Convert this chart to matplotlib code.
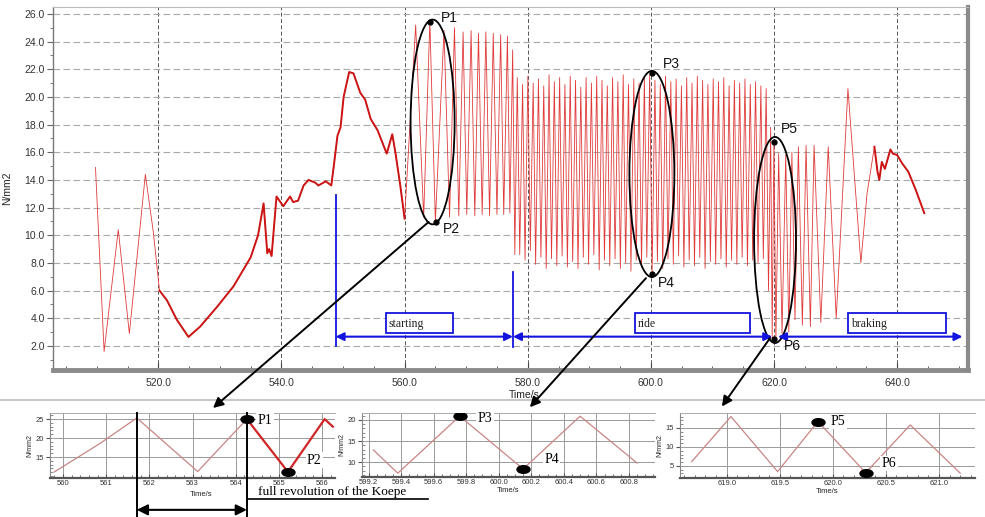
import numpy as np
import matplotlib
matplotlib.use('Agg')
import matplotlib.pyplot as plt
from matplotlib.patches import Ellipse, Rectangle, ConnectionPatch
from matplotlib.markers import MarkerStyle
from matplotlib.transforms import Affine2D
from matplotlib.ticker import MultipleLocator, FormatStrFormatter, FixedLocator
from matplotlib.lines import Line2D

plt.rcParams['font.family'] = ['Liberation Sans', 'DejaVu Sans']
SERIF = ['Liberation Serif', 'DejaVu Serif']

# ---------------- data: main record ----------------
slow_t = [509.8, 511.2, 513.5, 515.3, 517.9, 519.2, 520.2, 521.4, 523.0, 524.9, 526.8,
          529.5, 532.2, 535.0, 536.2, 537.1, 537.7, 538.0, 538.4, 539.2, 540.3, 541.4,
          541.9, 542.7, 543.6, 544.4, 545.5, 546.0, 547.2, 548.1, 548.5, 549.1, 549.6,
          550.1, 551.0, 551.7, 552.8, 553.6, 554.5, 555.6, 557.1, 558.0, 558.5, 559.3, 560.0]
slow_v = [14.9, 1.6, 10.4, 2.9, 14.4, 10.2, 6.0, 5.3, 3.9, 2.65, 3.4,
          4.8, 6.3, 8.4, 10.0, 12.3, 8.7, 9.0, 8.5, 12.8, 12.1, 12.8,
          12.4, 12.5, 13.6, 14.0, 13.8, 13.6, 13.9, 13.6, 15.0, 17.2, 17.8,
          20.0, 21.8, 21.7, 20.3, 19.8, 18.4, 17.6, 15.9, 17.3, 16.0, 13.6, 11.2]

start_t = [561.8, 563.1, 564.1, 565.0, 566.4, 567.3, 568.1, 568.8, 569.5, 570.1, 570.8,
           571.4, 572.0, 572.6, 573.2, 573.8, 574.4, 575.0, 575.6, 576.1, 576.7, 577.1,
           577.55, 577.9]
start_v = [25.2, 11.3, 25.5, 11.0, 24.8, 11.3, 25.0, 11.4, 24.7, 11.5, 24.8,
           11.4, 24.6, 11.5, 24.7, 11.4, 24.6, 11.5, 24.5, 11.5, 24.4, 11.6,
           23.4, 8.6]

ride_peak_t = [578.30, 579.16, 580.02, 580.88, 581.74, 582.60, 583.46, 584.32, 585.18, 586.04,
               586.90, 587.76, 588.62, 589.48, 590.34, 591.20, 592.06, 592.92, 593.78, 594.64,
               595.50, 596.36, 597.22, 598.08, 598.94, 599.80, 600.66, 601.52, 602.38, 603.24,
               604.10, 604.96, 605.82, 606.68, 607.54, 608.40, 609.26, 610.12, 610.98, 611.84,
               612.70, 613.56, 614.42, 615.28, 616.14, 617.00, 617.86]
ride_peak_v = [21.4, 20.9, 21.5, 21.0, 21.3, 20.8, 21.6, 21.1, 21.4, 20.9,
               21.5, 21.2, 20.7, 21.4, 21.0, 21.5, 21.2, 20.8, 21.4, 21.1,
               21.6, 20.9, 21.3, 21.0, 21.4, 21.6, 21.2, 20.9, 21.5, 21.1,
               21.3, 20.8, 21.4, 21.0, 21.5, 21.2, 20.9, 21.3, 21.1, 21.4,
               20.8, 21.2, 21.0, 21.3, 20.9, 21.1, 20.8]
ride_trough_t = [578.70, 579.56, 580.42, 581.28, 582.14, 583.00, 583.86, 584.72, 585.58, 586.44,
                 587.30, 588.16, 589.02, 589.88, 590.74, 591.60, 592.46, 593.32, 594.18, 595.04,
                 595.90, 596.76, 597.62, 598.48, 599.34, 600.20, 601.06, 601.92, 602.78, 603.64,
                 604.50, 605.36, 606.22, 607.08, 607.94, 608.80, 609.66, 610.52, 611.38, 612.24,
                 613.10, 613.96, 614.82, 615.68, 616.54, 617.40, 618.26]
ride_trough_v = [8.6, 8.2, 8.9, 7.9, 8.4, 7.6, 8.3, 7.8, 8.5, 7.7,
                 8.1, 7.6, 8.4, 7.9, 8.6, 7.5, 8.2, 7.8, 8.3, 7.6,
                 8.0, 7.4, 8.2, 7.7, 8.4, 7.3, 8.1, 7.6, 8.3, 7.9,
                 8.5, 7.7, 8.2, 7.8, 8.4, 7.6, 8.1, 7.9, 8.3, 7.7,
                 8.2, 7.9, 8.4, 7.8, 8.2, 8.0, 8.3]

brake_t = [618.72, 619.1, 619.45, 619.7, 619.98, 620.3, 620.75, 621.3, 621.9, 622.4, 622.9,
           623.4, 623.95, 624.6, 625.2, 625.9, 626.5, 627.6, 628.8, 630.1, 632.0, 634.1,
           635.1, 636.3, 636.8, 637.1, 637.5, 638.0, 638.9, 639.3, 640.0, 640.8, 641.8,
           643.0, 644.4]
brake_v = [20.6, 6.0, 17.8, 2.6, 16.8, 2.4, 15.9, 2.9, 15.8, 3.0, 16.0,
           3.9, 16.4, 3.5, 16.5, 3.4, 16.5, 3.7, 16.4, 4.0, 20.6, 8.0,
           13.0, 16.4, 14.6, 14.0, 15.3, 14.8, 16.2, 15.9, 15.8, 15.2, 14.6,
           13.3, 11.6]

# marked points on the main record
pts_name = ['P1', 'P2', 'P3', 'P4', 'P5', 'P6']
pts_t = [564.07, 565.04, 600.16, 600.16, 620.0, 620.0]
pts_v = [25.42, 10.96, 21.73, 7.2, 16.75, 2.5]

# ---------------- data: zoomed records ----------------
in1_t = [559.8, 560.86, 561.71, 563.12, 564.26, 565.21, 566.06, 566.25]
in1_v = [11.1, 18.6, 25.3, 11.2, 25.0, 11.1, 25.0, 23.0]
in1_yticks = [15, 20, 25]
in2_t = [599.23, 599.38, 599.76, 600.15, 600.50, 600.85]
in2_v = [12.9, 7.4, 20.9, 8.4, 20.9, 9.8]
in3_t = [618.67, 619.04, 619.48, 619.86, 620.31, 620.73, 621.2]
in3_v = [6.1, 18.0, 3.5, 16.7, 3.2, 15.8, 3.1]

# ---------------- figure ----------------
W, H = 985, 517
fig = plt.figure(figsize=(W / 100, H / 100), dpi=100)


def px_axes(l, t, r, b):
    return fig.add_axes([l / W, 1 - b / H, (r - l) / W, (b - t) / H])


ride_t = np.column_stack([ride_peak_t, ride_trough_t]).ravel()
ride_v = np.column_stack([ride_peak_v, ride_trough_v]).ravel()
t_all = np.concatenate([slow_t, start_t, ride_t, brake_t])
v_all = np.concatenate([slow_v, start_v, ride_v, brake_v])

ax = px_axes(53, 7, 968, 370)
ax.set_xlim(502.9, 651.5)
ax.set_ylim(0.26, 26.5)
ax.plot(t_all, v_all, color='#e03a3a', lw=0.6, zorder=3)
thick = ((t_all >= 519.5) & (t_all <= 560.0)) | (t_all >= 636.3)
ax.plot(t_all, np.where(thick, v_all, np.nan), color='#cc1515', lw=1.4, zorder=3)

ax.xaxis.set_major_locator(MultipleLocator(20))
ax.xaxis.set_minor_locator(MultipleLocator(5))
ax.yaxis.set_major_locator(MultipleLocator(2))
ax.yaxis.set_minor_locator(MultipleLocator(1))
ax.xaxis.set_major_formatter(FormatStrFormatter('%.1f'))
ax.yaxis.set_major_formatter(FormatStrFormatter('%.1f'))
ax.tick_params(axis='x', which='major', direction='in', length=5, color='#444',
               labelsize=7.5, labelcolor='#333', pad=6)
ax.tick_params(axis='x', which='minor', direction='in', length=3, color='#444')
ax.tick_params(axis='y', which='major', direction='out', length=4, color='#666',
               labelsize=7.5, labelcolor='#333', pad=2)
ax.tick_params(axis='y', which='minor', direction='out', length=2, color='#666')
ax.grid(axis='y', which='major', color='#a8a8a8', lw=0.8, linestyle=(0, (6, 3)))
ax.grid(axis='x', which='major', color='#555555', lw=0.7, linestyle=(0, (4, 2.5)))
ax.set_axisbelow(True)
for s, (c, w) in {'left': ('#777777', 1.0), 'top': ('#bbbbbb', 0.8),
                  'bottom': ('#8a8a8a', 3.5), 'right': ('#8a8a8a', 3.0)}.items():
    ax.spines[s].set_color(c)
    ax.spines[s].set_linewidth(w)
ax.set_xlabel('Time/s', fontsize=7.5, color='#222')
ax.xaxis.set_label_coords(0.515, -0.055)
ax.set_ylabel('N/mm2', fontsize=7.5, color='#222')
ax.yaxis.set_label_coords(-0.045, 0.5)

# ellipses and points
for (cx, cy, w, h) in [(564.55, 18.19, 7.15, 14.8), (600.16, 14.43, 7.3, 14.9),
                       (620.16, 9.66, 6.8, 14.9)]:
    ax.add_patch(Ellipse((cx, cy), w, h, fill=False, ec='black', lw=1.3, zorder=5))
ax.plot(pts_t, pts_v, 'o', color='black', ms=3.5, zorder=6)
lab_pos = [(565.85, 25.7), (566.2, 10.45), (601.95, 22.4), (601.1, 6.55),
           (621.1, 17.7), (621.6, 2.0)]
for n, (lx, ly) in zip(pts_name, lab_pos):
    ax.text(lx, ly, n, fontsize=10, va='center', ha='left', color='#111', zorder=7)

# phase annotations
BLUE = '#1414e0'
ax.plot([548.8, 548.8], [12.9, 2.0], color=BLUE, lw=1.3, zorder=6)
ax.plot([577.6, 577.6], [7.35, 1.95], color=BLUE, lw=1.3, zorder=6)
for (x0, x1) in [(548.8, 577.6), (577.6, 619.7), (620.65, 650.6)]:
    ax.annotate('', xy=(x0, 2.67), xytext=(x1, 2.67),
                arrowprops=dict(arrowstyle='<|-|>', color=BLUE, lw=1.5,
                                mutation_scale=12, shrinkA=0, shrinkB=0), zorder=6)
for (x0, x1, name) in [(556.9, 567.8, 'starting'), (597.4, 616.1, 'ride'),
                       (632.0, 648.0, 'braking')]:
    ax.add_patch(Rectangle((x0, 2.93), x1 - x0, 1.45, fc='white', ec=BLUE, lw=1.3, zorder=6))
    ax.text(x0 + 0.5, 3.62, name, family=SERIF, fontsize=8.5, va='center', ha='left',
            color='#222', zorder=7)

# ---------------- insets ----------------
ell = MarkerStyle('o', transform=Affine2D().scale(1.7, 1.0))


def style_inset(a, xmaj, xmin, xfmt, ymaj):
    a.xaxis.set_major_locator(MultipleLocator(xmaj))
    a.xaxis.set_minor_locator(MultipleLocator(xmin))
    a.yaxis.set_major_locator(MultipleLocator(ymaj))
    a.yaxis.set_minor_locator(MultipleLocator(1))
    a.xaxis.set_major_formatter(FormatStrFormatter(xfmt))
    a.yaxis.set_major_formatter(FormatStrFormatter('%d'))
    a.tick_params(axis='both', which='major', labelsize=5.5, labelcolor='#333',
                  length=3, color='#555', pad=1.5)
    a.tick_params(axis='x', which='both', direction='in')
    a.tick_params(axis='x', which='minor', length=2, color='#555')
    a.tick_params(axis='y', which='minor', direction='in', length=2, color='#777')
    a.grid(which='major', color='#9a9a9a', lw=0.7)
    a.set_axisbelow(True)
    a.spines['left'].set_color('#888')
    a.spines['top'].set_color('#aaa')
    a.spines['top'].set_linewidth(0.7)
    a.spines['right'].set_visible(False)
    a.spines['bottom'].set_color('#555')
    a.spines['bottom'].set_linewidth(1.6)
    a.set_xlabel('Time/s', fontsize=5.5, labelpad=0.5, color='#222')
    a.set_ylabel('N/mm2', fontsize=5, labelpad=1, color='#222')


LINE_IN = '#c98585'

a1 = px_axes(50, 413, 335, 478)
a1.set_xlim(559.7, 566.3)
a1.set_ylim(9.5, 26.6)
style_inset(a1, 1, 0.2, '%d', 5)
a1.yaxis.set_major_locator(FixedLocator(in1_yticks))
a1.xaxis.set_label_coords(0.53, -0.2)
a1.plot(in1_t, in1_v, color=LINE_IN, lw=0.9)
m1 = np.array(in1_t) >= 564.26
a1.plot(np.array(in1_t)[m1], np.array(in1_v)[m1], color='#d02828', lw=1.6)
a1.plot([in1_t[4], in1_t[5]], [in1_v[4], in1_v[5]], ls='none', marker=ell, ms=5.5,
        color='black', zorder=6, clip_on=False)
a1.text(564.51, 24.7, 'P1', family=SERIF, fontsize=10, va='center', ha='left',
        bbox=dict(fc='white', ec='none', pad=1), zorder=7)
a1.text(565.65, 14.2, 'P2', family=SERIF, fontsize=10, va='center', ha='left',
        bbox=dict(fc='white', ec='none', pad=1), zorder=7)
for xv in (in1_t[2], in1_t[4]):
    a1.axvline(xv, ymin=-0.6, ymax=1.0, color='black', lw=1.4, clip_on=False, zorder=8)
a1.annotate('', xy=(in1_t[2], -0.49), xytext=(in1_t[4], -0.49),
            xycoords=('data', 'axes fraction'), textcoords=('data', 'axes fraction'),
            arrowprops=dict(arrowstyle='<|-|>', color='black', lw=1.5, mutation_scale=16,
                            shrinkA=0, shrinkB=0), annotation_clip=False)
a1.text(564.51, -0.31, 'full revolution of the Koepe', family=SERIF, fontsize=9.5,
        va='bottom', ha='left', transform=a1.get_xaxis_transform(), clip_on=False)
a1.plot([564.28, 568.45], [-0.32, -0.32], color='black', lw=1.2,
        transform=a1.get_xaxis_transform(), clip_on=False)

a2 = px_axes(362, 413, 655, 477)
a2.set_xlim(599.16, 600.96)
a2.set_ylim(6.5, 21.65)
style_inset(a2, 0.2, 0.05, '%.1f', 5)
a2.plot(in2_t, in2_v, color=LINE_IN, lw=0.9)
a2.plot([in2_t[2], in2_t[3]], [in2_v[2], in2_v[3]], ls='none', marker=ell, ms=5.5,
        color='black', zorder=6)
a2.text(599.87, 20.4, 'P3', family=SERIF, fontsize=10, va='center', ha='left',
        bbox=dict(fc='white', ec='none', pad=1), zorder=7)
a2.text(600.28, 10.6, 'P4', family=SERIF, fontsize=10, va='center', ha='left',
        bbox=dict(fc='white', ec='none', pad=1), zorder=7)

a3 = px_axes(680, 413, 975, 478)
a3.set_xlim(618.56, 621.34)
a3.set_ylim(1.8, 18.95)
style_inset(a3, 0.5, 0.1, '%.1f', 5)
a3.plot(in3_t, in3_v, color=LINE_IN, lw=0.9)
a3.plot([in3_t[3], in3_t[4]], [in3_v[3], in3_v[4]], ls='none', marker=ell, ms=5.5,
        color='black', zorder=6)
a3.text(619.98, 16.7, 'P5', family=SERIF, fontsize=10, va='center', ha='left',
        bbox=dict(fc='white', ec='none', pad=1), zorder=7)
a3.text(620.46, 5.6, 'P6', family=SERIF, fontsize=10, va='center', ha='left',
        bbox=dict(fc='white', ec='none', pad=1), zorder=7)

# separator between main chart and zoomed panels
fig.add_artist(Line2D([0, 1], [1 - 400 / H] * 2, transform=fig.transFigure,
                      color='#c8c8c8', lw=1.5))

# connecting arrows
for (xa, ya, axb, xb, yb) in [(563.9, 10.96, a1, 0.572, 1.077),
                              (599.2, 6.9, a2, 0.573, 1.09),
                              (619.35, 2.57, a3, 0.142, 1.10)]:
    con = ConnectionPatch(xyA=(xa, ya), coordsA=ax.transData, xyB=(xb, yb),
                          coordsB=axb.transAxes, arrowstyle='-|>', color='black',
                          lw=1.4, mutation_scale=15, zorder=10)
    fig.add_artist(con)

fig.savefig('out.png', dpi=100)
